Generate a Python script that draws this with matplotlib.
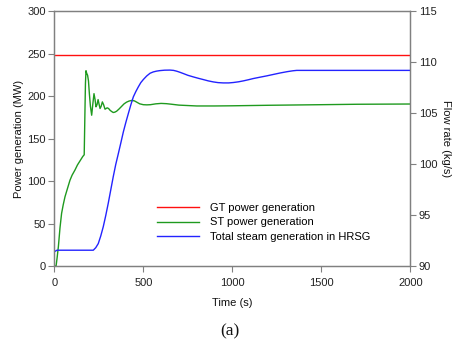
import matplotlib
matplotlib.use("Agg")
import matplotlib.pyplot as plt

plt.rcParams['font.family'] = ['Liberation Sans', 'DejaVu Sans']

# Data
gt_time = [0, 2000]
gt_power = [249, 249]

st_time = [0, 10, 16, 23, 32, 41, 50, 60, 75, 88, 100, 116, 130, 145, 160, 168,
           172, 175, 178, 182, 187, 192, 197, 203, 210, 216, 223, 229, 234, 240,
           246, 251, 257, 263, 270, 277, 285, 291, 297, 305, 313, 322, 331, 340,
           350, 364, 378, 392, 406, 420, 435, 450, 463, 480, 500, 520, 540, 570,
           600, 630, 660, 700, 750, 800, 900, 1000, 1200, 1500, 1700, 2000]
st_power = [0, 0, 10, 23, 45, 62, 72, 81.5, 92, 101, 107, 113, 119, 124, 129, 131,
            180, 215, 230, 227, 224.7, 218, 203, 188, 177.6, 190, 203, 196, 187.5, 190,
            196, 191, 185.5, 188, 193.3, 190, 184.7, 185.5, 186.3, 185.5, 183.5, 182, 180.8, 181.2,
            182.3, 185, 188, 191, 193, 194.3, 195, 194.5, 193, 191, 190, 189.8, 190, 191,
            191.5, 191.2, 190.5, 189.5, 189, 188.5, 188.5, 188.7, 189.3, 190, 190.5, 190.8]

hrsg_time = [0, 15, 100, 219, 233, 247, 261, 275, 289, 303, 317, 331, 345, 360,
             374, 388, 402, 416, 430, 444, 458, 472, 486, 500, 519, 538, 556, 575,
             594, 620, 650, 670, 688, 705, 725, 750, 781, 810, 837, 865, 893, 920,
             949, 980, 1006, 1035, 1062, 1090, 1118, 1155, 1193, 1230, 1270, 1310,
             1340, 1362, 1500, 2000]
hrsg_flow = [91.4, 91.55, 91.55, 91.55, 91.8, 92.2, 92.95, 93.85, 94.95, 96.15, 97.45, 98.75, 99.95, 101.05,
             102.1, 103.17, 104.1, 104.97, 105.82, 106.6, 107.12, 107.58, 108.0, 108.3, 108.65, 108.92, 109.05, 109.13,
             109.18, 109.22, 109.23, 109.2, 109.12, 109.02, 108.89, 108.72, 108.56, 108.42, 108.3, 108.17, 108.07, 108.0,
             107.97, 107.97, 108.01, 108.08, 108.17, 108.28, 108.4, 108.53, 108.66, 108.8, 108.95, 109.08,
             109.16, 109.2, 109.2, 109.2]

x_ticks = [0, 500, 1000, 1500, 2000]
left_ticks = [0, 50, 100, 150, 200, 250, 300]
right_ticks = [90, 95, 100, 105, 110, 115]

W, H = 455, 343
fig = plt.figure(figsize=(W / 100, H / 100), dpi=100)
ax = fig.add_axes([54.3 / W, 1 - 266 / H, (410.3 - 54.3) / W, (266 - 11.3) / H])
ax2 = ax.twinx()

spine_color = '#808080'
lw = 1.0
l1, = ax.plot(gt_time, gt_power, color='#ff1010', lw=lw, label='GT power generation')
l2, = ax.plot(st_time, st_power, color='#1f9a1f', lw=lw, label='ST power generation')
l3, = ax2.plot(hrsg_time, hrsg_flow, color='#2323ff', lw=lw, label='Total steam generation in HRSG')

ax.set_xlim(0, 2000)
ax.set_ylim(0, 300)
ax2.set_ylim(90, 115)
ax.set_xticks(x_ticks)
ax.set_yticks(left_ticks)
ax2.set_yticks(right_ticks)

for a in (ax, ax2):
    for s in a.spines.values():
        s.set_color(spine_color)
        s.set_linewidth(0.9)
    a.tick_params(direction='out', length=4, width=0.8, color=spine_color,
                  labelsize=8, labelcolor='#222222', pad=2)
ax.tick_params(axis='x', pad=4.5)

ax.set_xlabel('Time (s)', fontsize=8, labelpad=7.5, color='#111111')
ax.set_ylabel('Power generation (MW)', fontsize=8, labelpad=2.5, color='#111111')
ax2.set_ylabel('Flow rate (kg/s)', fontsize=8, rotation=270, labelpad=10, color='#111111')

leg = fig.legend(handles=[l1, l2, l3], loc='upper left',
                 bbox_to_anchor=(157 / W, 1 - 203 / H), frameon=False,
                 fontsize=8, handlelength=3.8, handletextpad=1.0,
                 labelspacing=0.4, borderpad=0, borderaxespad=0)

fig.text(230 / W, 1 - 331.5 / H, '(a)', fontsize=12.5, family='Liberation Serif',
         ha='center', va='center', color='#111111')

fig.savefig('out.png', dpi=100)
